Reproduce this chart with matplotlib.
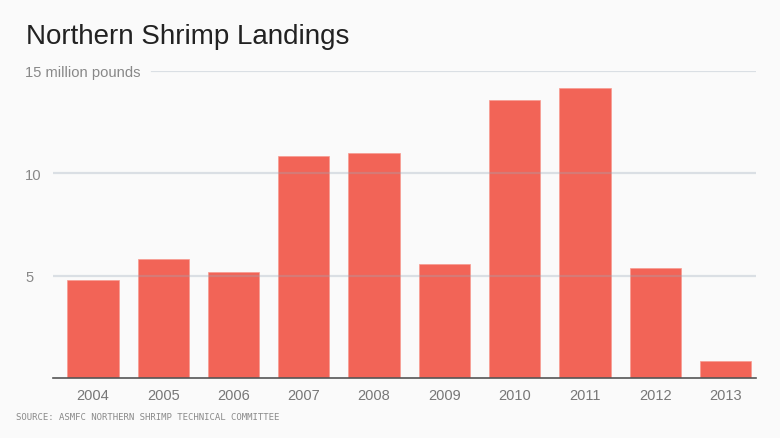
import matplotlib
matplotlib.use("Agg")
from matplotlib import pyplot as plt

years = ["2004", "2005", "2006", "2007", "2008", "2009", "2010", "2011", "2012", "2013"]
landings = [4.77, 5.84, 5.19, 10.82, 10.99, 5.55, 13.56, 14.14, 5.40, 0.83]
y_ticks = [5, 10, 15]
y_labels = ["5", "10", "15 million pounds"]

bg = "#fafafa"
bar_color = "#f26457"

plt.rcParams['font.family'] = ['Liberation Sans', 'DejaVu Sans']

fig = plt.figure(figsize=(7.8, 4.39), dpi=100, facecolor=bg)
ax = fig.add_axes([53/780, 59.7/439, 703/780, 307.7/439], facecolor=bg)

x = range(len(years))
ax.bar(x, landings, width=0.73, color=bar_color, edgecolor="#f79a90",
       linewidth=0.5, zorder=2)

# gridlines sit on top of the bars
for t in y_ticks:
    xmin = (152 - 53) / 703 if t == 15 else 0
    ax.axhline(t, xmin=xmin, xmax=1, color="#9aa8b8", alpha=0.33,
               linewidth=1.6, zorder=3)

ax.set_xlim(-0.569, 9.434)
ax.set_ylim(0, 15)
ax.set_xticks(list(x))
ax.set_xticklabels(years, fontsize=10.5, color="#777777")
ax.tick_params(axis="x", length=0, pad=7)

ax.set_yticks(y_ticks)
ax.set_yticklabels(y_labels, fontsize=10.6, color="#888888")
ax.tick_params(axis="y", length=0, pad=20)
for lab in ax.get_yticklabels():
    lab.set_horizontalalignment("left")
    lab.set_verticalalignment("center_baseline")

for s in ["top", "right", "left"]:
    ax.spines[s].set_visible(False)
ax.spines["bottom"].set_color("#555555")
ax.spines["bottom"].set_linewidth(1.2)
ax.spines["bottom"].set_zorder(4)

fig.text(26/780, 1 - 44/439, "Northern Shrimp Landings", fontsize=20,
         color="#222222", ha="left", va="baseline")
fig.text(16/780, 1 - 420/439, "SOURCE: ASMFC NORTHERN SHRIMP TECHNICAL COMMITTEE",
         fontsize=6.45, family="DejaVu Sans Mono", color="#8a8a8a",
         ha="left", va="baseline")

fig.savefig("out.png", dpi=100, facecolor=bg)
